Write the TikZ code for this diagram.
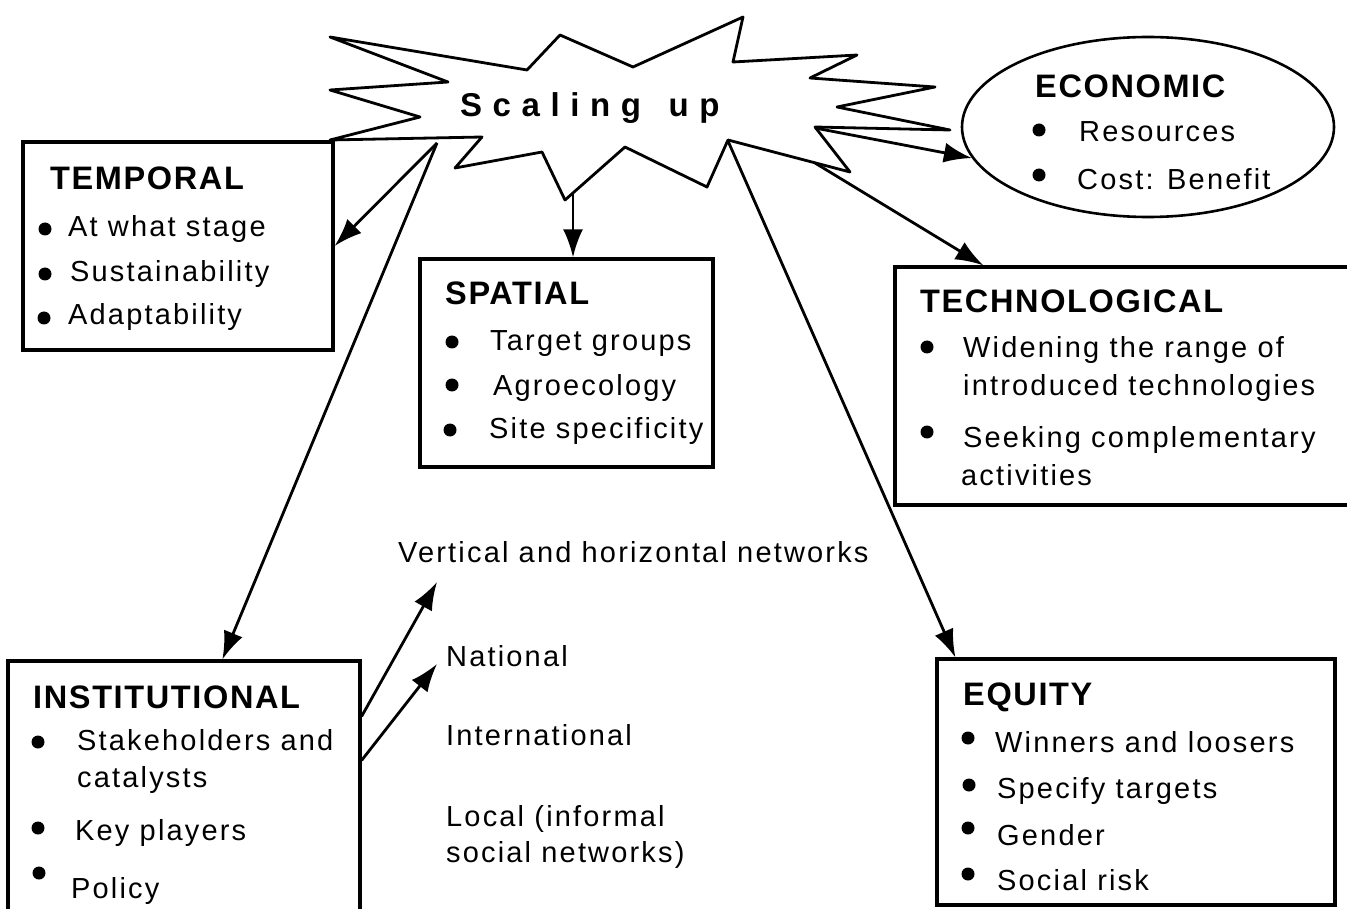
\documentclass[tikz,border=0pt]{standalone}
\usepackage{fontspec}
\setmainfont{Liberation Sans}
\newfontfamily\bodyfont{Liberation Sans}[LetterSpace=7.5]
\newfontfamily\headfont{Liberation Sans}[LetterSpace=5]
\newfontfamily\titlefont{Liberation Sans}[LetterSpace=32]
\usetikzlibrary{arrows.meta,shapes.geometric,fit}
\begin{document}
\begin{tikzpicture}[x=1pt,y=-1pt,
  box/.style={draw, line width=3.2pt, inner sep=0pt},
  lbl/.style={anchor=base west, inner sep=0pt, font=\bodyfont\fontsize{29}{34}\selectfont},
  head/.style={anchor=base west, inner sep=0pt, font=\headfont\bfseries\fontsize{32.5}{38}\selectfont},
  arr/.style={-{Latex[length=28pt,width=20pt]}, line width=2.8pt},
  bullet/.style={fill=black}]
\fill[white] (0,0) rectangle (1347,909);
\useasboundingbox (0,0) rectangle (1347,909);

% central burst
\draw[line width=2.8pt, line join=round]
  (330,37) -- (527,70) -- (560,35) -- (633,67) -- (743,17) -- (733,62)
  -- (857,55) -- (810,78) -- (935,87) -- (837,107) -- (950,130) -- (815,127)
  -- (850,172) -- (728,140) -- (707,187) -- (625,147) -- (565,200) -- (542,152)
  -- (455,168) -- (482,137) -- (330,140) -- (420,117) -- (330,90) -- (448,82) -- cycle;
\node[anchor=base west, inner sep=0pt, font=\titlefont\bfseries\fontsize{33}{38}\selectfont]
  (title) at (460,117) {Scaling\hspace{8pt} up};

% points on the burst where connectors leave
\coordinate (sL) at (437,143);
\coordinate (sB) at (573,193);
\coordinate (sR) at (728,141);
\coordinate (sE) at (815,128);
\coordinate (sT) at (815,163);

% TEMPORAL
\node[box, fit={(23,142)(333,350)}] (temporal) {};
\node[head] (temH) at (50,190) {TEMPORAL};
\fill[bullet] (45,229) circle (6.5pt);
\fill[bullet] (45,274) circle (6.5pt);
\fill[bullet] (44,318) circle (6.5pt);
\node[lbl] (tem1) at (68,237) {At what stage};
\node[lbl] (tem2) at (70,282) {Sustainability};
\node[lbl] (tem3) at (68,325) {Adaptability};

% SPATIAL
\node[box, fit={(420,259)(713,467)}] (spatial) {};
\node[head] (spaH) at (445,305) {SPATIAL};
\fill[bullet] (452,342) circle (6.5pt);
\fill[bullet] (452,385) circle (6.5pt);
\fill[bullet] (450,430) circle (6.5pt);
\node[lbl] (spa1) at (490,351) {Target groups};
\node[lbl] (spa2) at (493,395) {Agroecology};
\node[lbl] (spa3) at (489,438) {Site specificity};

% ECONOMIC
\node[draw, ellipse, line width=2.6pt, minimum width=372pt, minimum height=180pt]
  (economic) at (1148,127) {};
\node[head] (ecoH) at (1035,98) {ECONOMIC};
\fill[bullet] (1039,130) circle (6.5pt);
\fill[bullet] (1039,175) circle (6.5pt);
\node[lbl] (eco1) at (1079,142) {Resources};
\node[lbl] (eco2) at (1077,190) {Cost: Benefit};

% TECHNOLOGICAL
\node[box, fit={(895,267)(1352,505)}] (tech) {};
\node[head] (tecH) at (920,313) {TECHNOLOGICAL};
\fill[bullet] (927,347) circle (6.5pt);
\fill[bullet] (927,432) circle (6.5pt);
\node[lbl] (tec1) at (963,358) {Widening the range of};
\node[lbl] (tec2) at (963,395) {introduced technologies};
\node[lbl] (tec3) at (963,447) {Seeking complementary};
\node[lbl] (tec4) at (961,485) {activities};

% EQUITY
\node[box, fit={(937,659)(1335,905)}] (equity) {};
\node[head] (equH) at (963,705) {EQUITY};
\fill[bullet] (968,738) circle (6.5pt);
\fill[bullet] (969,785) circle (6.5pt);
\fill[bullet] (968,828) circle (6.5pt);
\fill[bullet] (968,874) circle (6.5pt);
\node[lbl] (equ1) at (995,752) {Winners and loosers};
\node[lbl] (equ2) at (997,798) {Specify targets};
\node[lbl] (equ3) at (997,845) {Gender};
\node[lbl] (equ4) at (997,890) {Social risk};

% INSTITUTIONAL
\node[box, fit={(8,661)(360,925)}] (inst) {};
\node[head] (insH) at (33,708) {INSTITUTIONAL};
\fill[bullet] (38,742) circle (6.5pt);
\fill[bullet] (38,828) circle (6.5pt);
\fill[bullet] (39,873) circle (6.5pt);
\node[lbl] (ins1) at (77,750) {Stakeholders and};
\node[lbl] (ins2) at (77,787) {catalysts};
\node[lbl] (ins3) at (75,840) {Key players};
\node[lbl] (ins4) at (71,898) {Policy};

% network levels
\node[lbl] (net0) at (398,562) {Vertical and horizontal networks};
\node[lbl] (net1) at (446,666) {National};
\node[lbl] (net2) at (446,745) {International};
\node[lbl] (net3) at (446,826) {Local (informal};
\node[lbl] (net4) at (446,862) {social networks)};
\coordinate (vt) at (437,582);
\coordinate (nt) at (437,664);

% connectors
\draw[arr] (sL) -- (temporal.east);
\draw[arr] (sL) -- ([xshift=216pt]inst.north west);
\draw[arr] (sB) -- ([xshift=6.5pt]spatial.north);
\draw[arr] (sR) -- ([xshift=20pt]equity.north west);
\draw[arr] (sE) -- (economic.190);
\draw[arr] (sT) -- ([xshift=90pt]tech.north west);
\draw[arr] ([yshift=-57pt]inst.north east) -- (vt);
\draw[arr] ([yshift=-101pt]inst.north east) -- (nt);
\end{tikzpicture}
\end{document}
